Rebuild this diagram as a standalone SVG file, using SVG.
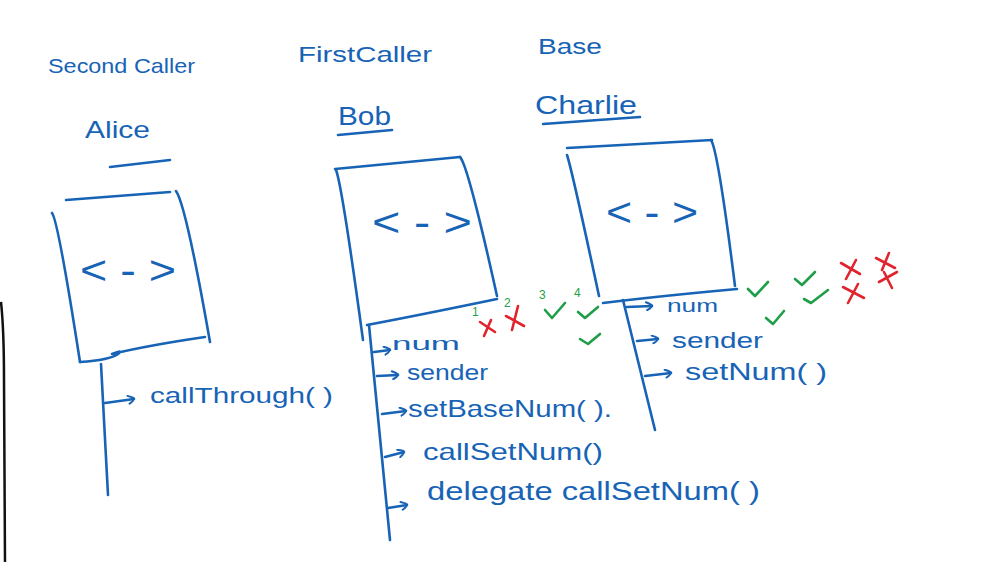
<svg xmlns="http://www.w3.org/2000/svg" width="983" height="562" viewBox="0 0 983 562">
<defs>
<style>
.ink{fill:none;stroke:#1763b6;stroke-width:2.6;stroke-linecap:round;stroke-linejoin:round}
.t{font-family:"Liberation Sans",Arial,sans-serif;fill:#1763b6}
.ok{fill:none;stroke:#1e9e48;stroke-width:2.6;stroke-linecap:round;stroke-linejoin:round}
.no{fill:none;stroke:#e0242e;stroke-width:2.6;stroke-linecap:round}
.n{font-family:"Liberation Sans",Arial,sans-serif;fill:#1e9e48;font-size:12px}
</style>
<marker id="ah2" viewBox="0 0 10 10" refX="9" refY="5" markerWidth="10" markerHeight="10" orient="auto" markerUnits="userSpaceOnUse">
<path d="M3,1 Q10,4 9,5 Q8,7 4,9" fill="none" stroke="#1763b6" stroke-width="2" stroke-linecap="round"/>
</marker>
</defs>
<rect width="983" height="562" fill="#fff"/>
<path d="M1,302 Q4,330 4,380 L5,562" fill="none" stroke="#111" stroke-width="2.5"/>

<g id="alice">
<text class="t" x="48" y="73" font-size="21" textLength="147" lengthAdjust="spacingAndGlyphs">Second Caller</text>
<text class="t" x="85" y="138" font-size="24" textLength="65" lengthAdjust="spacingAndGlyphs">Alice</text>
<path class="ink" d="M110,167 L170,160"/>
<path class="ink" d="M66,200 L170,192"/>
<path class="ink" d="M52,213 Q58,220 80,362"/>
<path class="ink" d="M176,191 Q186,205 210,342"/>
<path class="ink" d="M80,362 Q110,360 118,354 Q124,349 112,354 Q150,345 205,337"/>
<text class="t" x="80" y="284" font-size="40" textLength="96" lengthAdjust="spacingAndGlyphs">&lt; - &gt;</text>
<text class="t" x="150" y="403" font-size="22" textLength="183" lengthAdjust="spacingAndGlyphs">callThrough( )</text>
</g>

<g id="bob">
<text class="t" x="298" y="62" font-size="22" textLength="134" lengthAdjust="spacingAndGlyphs">FirstCaller</text>
<text class="t" x="338" y="125" font-size="25" textLength="53" lengthAdjust="spacingAndGlyphs">Bob</text>
<path class="ink" d="M338,135 L392,130"/>
<path class="ink" d="M335,169 L460,157"/>
<path class="ink" d="M336,170 Q342,185 363,340"/>
<path class="ink" d="M460,157 Q468,165 497,296"/>
<path class="ink" d="M367,325 Q420,315 497,299"/>
<text class="t" x="372" y="236" font-size="40" textLength="100" lengthAdjust="spacingAndGlyphs">&lt; - &gt;</text>
<text class="t" x="392" y="350" font-size="19" textLength="68" lengthAdjust="spacingAndGlyphs">num</text>
<text class="t" x="407" y="380" font-size="22" textLength="81" lengthAdjust="spacingAndGlyphs">sender</text>
<text class="t" x="408" y="417" font-size="24" textLength="204" lengthAdjust="spacingAndGlyphs">setBaseNum( ).</text>
<text class="t" x="423" y="460" font-size="24" textLength="180" lengthAdjust="spacingAndGlyphs">callSetNum()</text>
<text class="t" x="427" y="500" font-size="26" textLength="333" lengthAdjust="spacingAndGlyphs">delegate callSetNum( )</text>
</g>

<g id="charlie">
<text class="t" x="538" y="54" font-size="22" textLength="64" lengthAdjust="spacingAndGlyphs">Base</text>
<text class="t" x="535" y="114" font-size="26" textLength="102" lengthAdjust="spacingAndGlyphs">Charlie</text>
<path class="ink" d="M543,124 L640,117"/>
<path class="ink" d="M567,148 L712,140"/>
<path class="ink" d="M567,155 Q572,170 599,296"/>
<path class="ink" d="M711,140 Q718,150 735,286"/>
<path class="ink" d="M603,303 Q660,296 737,289"/>
<text class="t" x="606" y="226" font-size="40" textLength="92" lengthAdjust="spacingAndGlyphs">&lt; - &gt;</text>
<text class="t" x="667" y="312" font-size="18" textLength="51" lengthAdjust="spacingAndGlyphs">num</text>
<text class="t" x="672" y="348" font-size="22" textLength="91" lengthAdjust="spacingAndGlyphs">sender</text>
<text class="t" x="685" y="380" font-size="24" textLength="142" lengthAdjust="spacingAndGlyphs">setNum( )</text>
</g>

<g id="connectors">
<path class="ink" d="M101,364 Q104,420 108,495"/>
<path class="ink" d="M105,403 L134,399" marker-end="url(#ah2)"/>
<path class="ink" d="M369,325 Q378,420 390,540"/>
<path class="ink" d="M374,352 L390,350" marker-end="url(#ah2)"/>
<path class="ink" d="M377,376 L398,375" marker-end="url(#ah2)"/>
<path class="ink" d="M382,414 L406,411" marker-end="url(#ah2)"/>
<path class="ink" d="M385,457 L404,452" marker-end="url(#ah2)"/>
<path class="ink" d="M388,508 L407,505" marker-end="url(#ah2)"/>
<path class="ink" d="M623,300 Q640,370 655,430"/>
<path class="ink" d="M627,307 L652,306" marker-end="url(#ah2)"/>
<path class="ink" d="M637,341 L658,339" marker-end="url(#ah2)"/>
<path class="ink" d="M645,376 L671,373" marker-end="url(#ah2)"/>
</g>

<g id="marks">
<text class="n" x="472" y="316">1</text>
<text class="n" x="504" y="307">2</text>
<text class="n" x="539" y="299">3</text>
<text class="n" x="574" y="297">4</text>
<path class="no" d="M480,322 L495,332 M491,320 L484,336"/>
<path class="no" d="M506,316 L524,326 M518,306 L512,330"/>
<path class="ok" d="M545,310 L552,318 L565,303"/>
<path class="ok" d="M578,312 L585,318 L598,307"/>
<path class="ok" d="M580,339 L588,344 L600,334"/>
<path class="ok" d="M748,289 L755,296 L768,282"/>
<path class="ok" d="M795,279 L802,285 L815,272"/>
<path class="ok" d="M766,318 L773,324 L784,311"/>
<path class="ok" d="M804,299 L811,303 L828,290"/>
<path class="no" d="M841,263 L860,274 M856,260 L846,279"/>
<path class="no" d="M843,287 L864,298 M858,284 L848,303"/>
<path class="no" d="M876,258 L895,268 M889,253 L882,270"/>
<path class="no" d="M879,282 L897,272 M884,272 L892,288"/>
</g>
</svg>
